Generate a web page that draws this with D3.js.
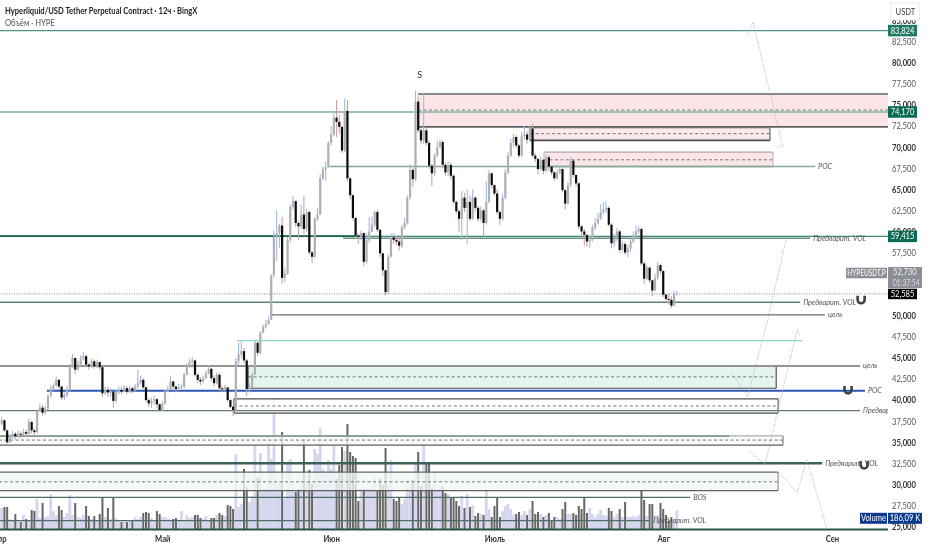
<!DOCTYPE html>
<html>
<head>
<meta charset="utf-8">
<script src="https://cdn.jsdelivr.net/npm/d3@7"></script>
<style>
  html, body { margin: 0; padding: 0; background: #fff; }
  svg { display: block; filter: blur(0.3px); }
  text { font-family: "Lato", "Liberation Sans", sans-serif; }
</style>
</head>
<body>
<svg id="chart" width="932" height="550"></svg>
<script>
// All prices in thousands of USDT, bars are 12h candles counted from 1 Apr
var candleOpenFirst = 37.0;
var candleClose = [
  37.2,37.6,36.4,35.0,35.6,36.0,35.7,36.0,35.9,36.2,
  36.0,37.4,36.4,36.2,38.7,39.1,38.5,39.0,40.5,41.3,
  41.7,42.4,41.6,40.3,40.6,41.2,44.0,45.0,43.6,44.3,
  44.9,45.2,44.2,44.0,44.6,44.0,44.5,43.9,40.8,41.2,
  40.9,41.0,39.9,40.9,41.2,41.0,41.4,41.0,41.4,41.1,
  41.6,42.0,42.4,41.5,40.0,39.6,39.9,40.1,39.5,38.8,
  39.6,41.0,41.3,42.2,41.6,41.3,41.5,41.6,43.0,44.0,
  44.5,44.7,43.0,42.4,42.2,42.6,43.2,43.7,42.6,42.0,
  43.0,41.4,41.3,41.5,40.0,39.2,38.8,44.6,45.4,45.8,
  44.7,41.3,41.5,43.0,46.8,45.6,48.0,48.7,49.0,49.5,
  54.8,59.3,59.8,60.7,54.5,55.0,59.0,62.9,63.6,61.0,
  60.6,62.0,60.3,62.3,57.5,57.0,61.5,62.0,66.3,67.4,
  67.6,70.5,71.5,73.5,73.0,72.4,69.6,74.3,66.3,64.3,
  61.6,59.5,59.4,59.8,56.4,59.0,60.0,60.8,62.3,60.2,
  57.4,55.4,52.8,57.0,59.3,59.0,58.8,58.3,60.5,61.0,
  64.0,67.3,66.2,75.4,72.0,70.8,72.0,70.5,67.8,66.9,
  69.0,70.0,70.6,67.9,67.0,67.9,66.6,63.5,62.4,61.5,
  64.0,62.8,63.5,61.5,64.0,62.8,61.5,62.5,61.0,63.5,
  66.9,65.5,64.5,62.3,61.5,64.0,67.0,69.0,70.5,71.2,
  70.2,69.0,71.3,71.5,70.9,72.2,69.0,68.6,67.4,68.5,
  67.2,68.8,67.7,67.0,66.3,67.0,67.4,64.9,63.3,65.5,
  68.4,66.7,65.7,60.6,60.0,59.6,58.8,59.0,60.5,61.0,
  61.5,62.3,62.6,62.8,60.8,58.6,59.2,60.0,57.8,58.5,
  57.5,58.0,58.8,59.5,60.0,60.3,56.2,54.4,55.7,54.2,
  53.0,54.5,56.0,55.3,52.5,52.0,51.9,51.2,52.6,52.73
];
var candleHigh = [
  37.8,38.0,37.7,36.5,36.0,36.3,36.2,36.4,36.3,36.6,
  36.5,37.8,37.5,36.7,38.9,39.6,39.4,39.3,40.7,41.7,
  42.0,42.8,42.5,41.7,40.9,41.6,44.3,45.5,45.0,44.7,
  45.3,45.7,45.4,44.4,44.9,44.8,44.8,44.6,44.0,41.6,
  41.6,41.4,41.1,41.2,41.6,41.6,41.8,41.7,41.7,41.6,
  41.9,43.6,42.9,42.6,41.6,40.2,40.3,40.5,40.2,39.6,
  39.9,41.2,41.7,42.9,42.3,41.7,41.9,42.0,43.2,44.4,
  44.9,45.1,44.8,43.2,42.7,42.9,43.5,44.2,43.8,42.9,
  43.3,43.2,41.7,41.8,41.5,40.1,39.3,45.0,46.8,47.0,
  46.2,44.9,42.0,43.3,47.2,46.9,48.2,49.0,49.5,50.0,
  54.9,60.1,62.5,60.9,61.7,55.6,59.3,63.2,64.2,63.7,
  61.3,63.2,64.2,62.7,62.5,57.7,61.7,62.8,66.8,67.7,
  68.3,70.7,72.5,74.0,75.6,73.8,72.5,75.8,75.6,66.4,
  64.4,61.7,59.8,60.1,59.9,59.8,61.7,61.8,62.5,62.6,
  60.2,57.5,55.4,57.3,59.8,59.8,59.5,59.2,60.8,61.6,
  64.3,68.0,67.5,76.7,76.0,72.2,76.4,72.3,70.8,68.0,
  69.3,70.8,70.9,70.8,68.2,68.3,68.2,66.8,63.7,62.6,
  64.8,64.6,65.0,64.3,65.0,64.2,63.0,63.0,62.7,66.0,
  67.3,67.0,65.6,65.0,62.5,64.5,67.4,69.4,71.0,71.6,
  71.4,70.4,71.8,72.5,71.9,72.6,72.8,69.3,68.7,68.9,
  68.6,69.1,69.0,67.8,67.2,67.4,67.8,67.5,65.0,65.9,
  68.8,68.6,66.8,65.8,60.8,60.3,59.6,59.5,60.8,61.6,
  62.2,63.2,63.5,63.6,63.0,61.0,59.7,60.4,60.2,58.9,
  58.8,58.4,59.2,60.0,60.7,60.6,60.4,56.4,56.0,55.8,
  54.3,55.0,56.4,56.2,55.4,52.6,52.6,52.3,53.0,52.9
];
var candleLow = [
  36.8,37.0,36.2,34.6,34.9,35.4,35.3,35.5,35.5,35.8,
  35.6,35.9,36.0,35.8,36.0,38.6,38.1,38.3,38.8,40.3,
  41.1,41.7,41.3,40.0,40.0,40.4,41.0,43.8,43.1,43.5,
  44.1,44.7,43.9,43.6,43.8,43.7,43.8,43.6,40.4,40.6,
  40.4,40.4,39.1,39.7,40.7,40.7,40.9,40.7,40.8,40.8,
  41.0,41.4,41.8,41.3,39.8,39.2,39.1,39.4,39.0,38.6,
  38.7,39.4,40.9,41.2,41.1,40.9,41.1,41.3,41.4,42.9,
  43.8,44.1,42.8,42.0,41.8,42.0,42.5,43.0,42.3,41.6,
  41.9,41.1,40.9,41.0,39.8,39.0,38.1,38.6,44.2,45.0,
  44.3,40.5,40.9,41.4,43.0,45.2,45.4,47.9,48.5,48.9,
  49.5,54.5,56.5,58.0,53.8,54.0,54.8,58.7,62.6,60.6,
  59.0,60.3,59.7,60.0,57.2,56.3,56.8,61.2,62.0,66.0,
  66.0,67.5,70.2,71.3,71.2,71.6,69.3,69.4,65.9,63.8,
  61.3,59.1,58.5,59.0,55.9,56.2,58.6,59.9,60.5,59.9,
  57.0,54.7,52.4,52.6,56.9,58.5,58.4,57.7,58.0,60.2,
  60.8,63.8,65.3,66.0,71.7,70.3,70.4,70.2,67.4,65.4,
  66.6,68.8,69.9,67.5,66.6,66.6,66.2,63.2,62.1,60.0,
  59.0,62.3,58.5,61.2,61.4,62.4,61.1,61.2,59.4,60.8,
  63.4,65.1,64.2,62.0,60.8,61.3,63.8,66.8,68.8,70.0,
  69.9,68.7,68.8,70.9,70.4,70.7,68.8,68.2,66.8,67.3,
  66.8,67.0,67.2,66.7,66.0,66.1,66.8,64.6,62.6,63.2,
  65.2,66.4,65.4,60.3,59.4,58.3,58.2,58.0,58.8,60.1,
  60.8,61.4,62.0,62.2,60.6,58.0,58.2,58.8,57.4,57.6,
  57.2,56.9,57.6,58.6,59.3,59.8,56.0,53.8,54.2,53.9,
  52.3,52.9,54.2,55.0,52.2,51.5,51.3,50.9,51.1,52.4
];
// volume in tens of thousands
var volume = [
  20,21,22,22,10,9,15,8,7,14,
  10,9,19,18,30,11,26,12,13,35,
  18,14,23,19,12,16,34,14,26,12,
  11,14,23,13,10,13,8,15,32,12,
  21,10,32,11,8,7,9,7,8,9,
  12,10,12,16,17,16,11,9,18,15,
  12,12,10,9,10,11,8,18,9,14,
  11,12,14,14,11,10,13,9,11,11,
  14,16,14,13,24,23,20,75,22,25,
  60,42,27,33,83,51,76,40,40,92,
  70,130,48,45,97,30,65,70,45,37,
  40,50,90,50,59,45,80,75,101,60,
  56,69,60,83,50,64,82,78,105,77,
  73,71,28,40,40,42,40,45,53,39,
  50,44,81,45,69,30,28,32,25,30,
  52,45,49,65,77,43,90,67,67,41,
  57,40,42,43,36,35,32,32,28,23,
  33,21,35,22,24,13,16,15,14,40,
  20,12,23,31,12,18,23,25,20,14,
  15,17,14,18,14,20,28,15,17,15,
  12,14,16,9,12,12,10,20,27,15,
  15,16,14,23,20,31,16,21,15,12,
  15,19,14,13,21,18,12,15,20,12,
  27,12,12,13,12,14,39,29,13,25,
  25,14,14,26,20,14,8,12,10,18.6
];

var monthLabels = ["Апр", "Май", "Июн", "Июль", "Авг", "Сен"];
var monthBars = [0, 60, 122, 182, 244, 306];
var priceTicks = [85,82.5,80,77.5,75,72.5,70,67.5,65,62.5,60,57.5,55,52.5,50,47.5,45,42.5,40,37.5,35,32.5,30,27.5,25];

// horizontal levels
var levelPrice = [83.824, 74.17, 67.7, 59.415, 59.45, 59.2, 52.585, 51.6, 50.1, 47.05, 44.05, 41.1, 38.75, 35.72, 32.5, 28.45, 25.7, 24.65];
var levelFrom  = [0, 0, 121.6, 0, 0, 126.4, 0, 0, 99.6, 87.4, 0, 17.6, 0, 0, 0, 0, 0, 0];
var levelTo    = [326.6, 326.6, 299.8, 326.6, 132.6, 298, 326.6, 294.3, 303.4, 295, 316.3, 318.1, 316.3, 268.2, 302.4, 253.9, 239.2, 326.6];
var levelText  = ["", "", "POC", "", "", "Предварит. VOL", "", "Предварит. VOL", "цель", "", "цель", "POC", "Предварит. VOL", "", "Предварит. VOL", "BOS", "Предварит. VOL", ""];

// zones
var zoneTop    = [76.3, 72.3, 69.4, 44.05, 40.15, 35.75, 31.45];
var zoneBottom = [72.4, 70.8, 67.7, 41.4, 38.45, 34.65, 29.25];
var zoneMiddle = [74.4, 71.6, 68.5, 42.75, 39.3, 35.25, 30.3];
var zoneFrom   = [153.9, 195.1, 200.2, 91.5, 86.3, 0, 0];
var zoneTo     = [326.6, 283.2, 284.3, 285.5, 286.2, 288, 286.2];

// dotted forecast paths
var forecastBars = [
  [274.8, 277, 288, 285.5],
  [289.1, 282.5, 275, 269.3],
  [294.3, 293.2, 281.4, 275.2],
  [286.2, 293.2, 296.8, 304.2]
];
var forecastPrices = [
  [83.3, 84.85, 70.0, 70.1],
  [59.0, 49.7, 40.4, 43.3],
  [47.7, 48.3, 32.4, 34.0],
  [31.5, 29.0, 32.9, 24.7]
];

var magnetBars = [316.7, 311.9, 317.8];
var magnetPrices = [51.9, 41.2, 32.3];

var lastPriceBadges = ["83,824", "74,170", "59,415"];
var lastPriceValues = [83.824, 74.17, 59.415];

// Styles
var levelStyle = [
  {c:"#4f9484", w:1.1}, {c:"#9fc2b7", w:2}, {c:"#84a79e", w:1.6}, {c:"#3d8a72", w:1.1}, {c:"#14604a", w:1.8},
  {c:"#6f9087", w:1.6}, {c:"#a0a0a0", w:1.3, d:"1 1.5"}, {c:"#5f837a", w:1.3}, {c:"#6e6e6e", w:1.2}, {c:"#8fd6c6", w:1.3},
  {c:"#919492", w:2}, {c:"#2a58b4", w:2}, {c:"#66786f", w:1.3}, {c:"#8b9b96", w:1.6}, {c:"#3a6355", w:2.4}, {c:"#4f6d64", w:1.4},
  {c:"#4f6d64", w:1.4}, {c:"#27554a", w:2}
];
var zoneStyle = [
  {f:"#fbdfe1", top:"#888", tw:2, bot:"#5f5f5f", bw:1.6, side:"none"},
  {f:"#fbe3e4", top:"#666", tw:1.2, bot:"#4f4f4f", bw:1.6, side:"#555"},
  {f:"#fbdfe1", top:"#b5a9a9", tw:1.2, bot:"#c9c5c5", bw:2, side:"#bbb"},
  {f:"#e0f1eb", top:"#999", tw:2, bot:"#444", bw:1.2, side:"#444"},
  {f:"#ffffff", top:"#4f4f4f", tw:1.2, bot:"#4f4f4f", bw:1.2, side:"#555"},
  {f:"#f6faf8", top:"#8a9a95", tw:1, bot:"#5f5f5f", bw:1.2, side:"#777"},
  {f:"#f1f8f6", top:"#666", tw:1.3, bot:"#5f5f5f", bw:1.3, side:"#888"}
];
var upBody = "#b0b0b0", upWick = "#a3b8e2", downBody = "#0c0c0c", downWick = "#c9a4a7";
var upVol = "#d3d6ee", downVol = "#666";

var svg = d3.select("#chart");
var plotRight = 888;

var xScale = d3.scaleLinear().domain([0, 306]).range([-1, 832]);
var yScale = d3.scaleLinear().domain([25, 85]).range([526.5, 20.7]);
var volScale = d3.scaleLinear().domain([0, 130]).range([529, 399]);

// the fonts here are wider than the chart's narrow one
function squeeze(sel, k) {
  sel.each(function() {
    var len = this.getComputedTextLength();
    d3.select(this).attr("textLength", len * k).attr("lengthAdjust", "spacingAndGlyphs");
  });
  return sel;
}

var candles = candleClose.map(function(c, i) {
  return { i: i, open: i ? candleClose[i - 1] : candleOpenFirst, close: c, high: candleHigh[i], low: candleLow[i], vol: volume[i] };
});
function isUp(d) { return d.close >= d.open; }

svg.append("defs").append("clipPath").attr("id", "plot")
   .append("rect").attr("x", 0).attr("y", 0).attr("width", plotRight).attr("height", 532);

var plot = svg.append("g").attr("clip-path", "url(#plot)");

// Volume, light ones first so the dark bars stay on top
plot.append("g").selectAll("rect")
    .data(candles.slice().sort(function(a, b) { return isUp(b) - isUp(a); }))
    .enter().append("rect")
    .attr("x", function(d) { return xScale(d.i) - (isUp(d) ? 1.4 : 1); })
    .attr("width", function(d) { return isUp(d) ? 2.8 : 2; })
    .attr("y", function(d) { return volScale(d.vol); })
    .attr("height", function(d) { return volScale(0) - volScale(d.vol); })
    .attr("fill", function(d) { return isUp(d) ? upVol : downVol; });

// Zones
var zones = plot.append("g").selectAll("g").data(d3.range(zoneTop.length)).enter().append("g");
zones.append("rect")
     .attr("x", function(i) { return xScale(zoneFrom[i]); })
     .attr("width", function(i) { return xScale(zoneTo[i]) - xScale(zoneFrom[i]); })
     .attr("y", function(i) { return yScale(zoneTop[i]); })
     .attr("height", function(i) { return yScale(zoneBottom[i]) - yScale(zoneTop[i]); })
     .attr("fill", function(i) { return zoneStyle[i].f; })
     .attr("fill-opacity", 0.8);
zones.each(function(i) {
  var g = d3.select(this), st = zoneStyle[i];
  var x0 = xScale(zoneFrom[i]), x1 = xScale(zoneTo[i]);
  var yT = yScale(zoneTop[i]), yB = yScale(zoneBottom[i]), yM = yScale(zoneMiddle[i]);
  g.append("line").attr("x1", x0).attr("x2", x1).attr("y1", yT).attr("y2", yT)
   .attr("stroke", st.top).attr("stroke-width", st.tw);
  g.append("line").attr("x1", x0).attr("x2", x1).attr("y1", yB).attr("y2", yB)
   .attr("stroke", st.bot).attr("stroke-width", st.bw);
  g.append("line").attr("x1", x0).attr("x2", x1).attr("y1", yM).attr("y2", yM)
   .attr("stroke", "#666").attr("stroke-width", 0.9).attr("stroke-dasharray", "3 2.5");
  if (st.side != "none") {
    g.append("line").attr("x1", x1).attr("x2", x1).attr("y1", yT).attr("y2", yB)
     .attr("stroke", st.side).attr("stroke-width", 1.1);
    g.append("line").attr("x1", x0).attr("x2", x0).attr("y1", yT).attr("y2", yB)
     .attr("stroke", st.side).attr("stroke-width", 1.1);
  }
});

// Levels
plot.append("g").selectAll("line").data(levelPrice).enter().append("line")
    .attr("x1", function(d, i) { return xScale(levelFrom[i]); })
    .attr("x2", function(d, i) { return xScale(levelTo[i]); })
    .attr("y1", function(d) { return yScale(d); })
    .attr("y2", function(d) { return yScale(d); })
    .attr("stroke", function(d, i) { return levelStyle[i].c; })
    .attr("stroke-width", function(d, i) { return levelStyle[i].w; })
    .attr("stroke-dasharray", function(d, i) { return levelStyle[i].d || null; });

var levelLabels = plot.append("g").selectAll("text").data(levelPrice).enter().append("text")
    .attr("x", function(d, i) { return xScale(levelTo[i]) + 3; })
    .attr("y", function(d) { return yScale(d) + 2.5; })
    .attr("font-size", 8)
    .attr("font-style", "italic")
    .attr("fill", "#555")
    .text(function(d, i) { return levelText[i]; });
squeeze(levelLabels.filter(function(d, i) { return levelText[i] != ""; }), 0.9);

// Forecast paths
var forecastLine = d3.line()
    .x(function(d) { return xScale(d[0]); })
    .y(function(d) { return yScale(d[1]); });
plot.append("g").selectAll("path").data(forecastBars).enter().append("path")
    .attr("d", function(bars, k) {
      return forecastLine(bars.map(function(b, j) { return [b, forecastPrices[k][j]]; }));
    })
    .attr("fill", "none")
    .attr("stroke", "#a6a6a6")
    .attr("stroke-width", 0.9)
    .attr("stroke-dasharray", "1 1.5");

// Candles
var cg = plot.append("g").selectAll("g").data(candles).enter().append("g");
cg.append("line")
  .attr("x1", function(d) { return xScale(d.i); })
  .attr("x2", function(d) { return xScale(d.i); })
  .attr("y1", function(d) { return yScale(d.high); })
  .attr("y2", function(d) { return yScale(d.low); })
  .attr("stroke", function(d) { return isUp(d) ? upWick : downWick; })
  .attr("stroke-width", 1.1);
cg.append("rect")
  .attr("x", function(d) { return xScale(d.i) - 1.1; })
  .attr("width", 2.2)
  .attr("y", function(d) { return yScale(Math.max(d.open, d.close)); })
  .attr("height", function(d) { return Math.max(1, Math.abs(yScale(d.open) - yScale(d.close))); })
  .attr("fill", function(d) { return isUp(d) ? upBody : downBody; });

// S mark above the top
plot.append("text").attr("x", xScale(154.5)).attr("y", yScale(78.2))
    .attr("font-size", 9).attr("text-anchor", "middle").attr("fill", "#333").text("S");

// Magnets
magnetBars.forEach(function(b, i) {
  plot.append("path")
      .attr("transform", "translate(" + xScale(b) + "," + yScale(magnetPrices[i]) + ")")
      .attr("d", "M-3.5,-4 V0 A3.5,3.5 0 0 0 3.5,0 V-4")
      .attr("fill", "none")
      .attr("stroke", "#3f4347")
      .attr("stroke-width", 2.6);
});

// Price axis
var yAxis = d3.axisRight(yScale)
    .tickValues(priceTicks)
    .tickSize(0)
    .tickPadding(0)
    .tickFormat(function(d) { return d3.format(",")(d * 1000); });
var yG = svg.append("g").attr("transform", "translate(892,0)").call(yAxis);
yG.select(".domain").remove();
yG.selectAll("text")
  .attr("font-size", 9)
  .attr("font-weight", function(d) { return d % 5 == 0 ? "bold" : "normal"; })
  .attr("fill", function(d) { return d % 5 == 0 ? "#333" : "#555"; })
  .style("font-family", "Lato, 'Liberation Sans', sans-serif");
squeeze(yG.selectAll("text"), 0.85);

// Month axis
var xAxis = d3.axisBottom(xScale)
    .tickValues(monthBars)
    .tickSize(0)
    .tickPadding(0)
    .tickFormat(function(d, i) { return monthLabels[i]; });
var xG = svg.append("g").attr("transform", "translate(0,536)").call(xAxis);
xG.select(".domain").remove();
xG.selectAll("text")
  .attr("font-size", 9)
  .attr("font-weight", "bold")
  .attr("fill", "#333")
  .style("font-family", "Lato, 'Liberation Sans', sans-serif");
squeeze(xG.selectAll("text"), 0.85);

// USDT box
svg.append("rect").attr("x", 890.5).attr("y", 3).attr("width", 29).attr("height", 17)
   .attr("fill", "#fff").attr("stroke", "#eee");
squeeze(svg.append("text").attr("x", 895.5).attr("y", 15).attr("font-size", 9).attr("fill", "#444").text("USDT"), 0.85);

// Price badges
function badge(x, yc, w, h, bg, txt, col, k) {
  svg.append("rect").attr("x", x).attr("y", yc - h / 2).attr("width", w).attr("height", h).attr("fill", bg);
  var t = svg.append("text").attr("x", x + w / 2).attr("y", yc + 3).attr("text-anchor", "middle")
     .attr("font-size", 9).attr("fill", col).text(txt);
  if (txt) squeeze(t, k || 0.84);
}
lastPriceBadges.forEach(function(t, i) {
  badge(888, yScale(lastPriceValues[i]), 29, 11.5, i == 0 ? "#1f7a63" : "#0b6b55", t, "#fff");
});
badge(888, 277.5, 34, 21, "#8b8e94", "", "#fff");
squeeze(svg.append("text").attr("x", 893).attr("y", 275).attr("font-size", 9).attr("fill", "#eee").text("52,730"), 0.84);
squeeze(svg.append("text").attr("x", 893).attr("y", 285.5).attr("font-size", 9).attr("fill", "#ddd").text("01:37:54"), 0.74);
badge(846, 273, 41, 10.5, "#8b8e94", "HYPEUSDT.P", "#fff", 0.72);
badge(888, yScale(52.585), 29, 10.5, "#000", "52,585", "#fff");
badge(860, 518.3, 27, 11, "#0d3a8e", "Volume", "#fff");
badge(888, 518.3, 34, 11, "#0d3a8e", "186,09 K", "#fff");

// Header
squeeze(svg.append("text").attr("x", 5).attr("y", 14).attr("font-size", 9.5).attr("font-weight", "bold").attr("fill", "#222")
   .text("Hyperliquid/USD Tether Perpetual Contract · 12ч · BingX"), 0.8);
squeeze(svg.append("text").attr("x", 5).attr("y", 26).attr("font-size", 9).attr("fill", "#555")
   .text("Объём · HYPE"), 0.85);
</script>
</body>
</html>
